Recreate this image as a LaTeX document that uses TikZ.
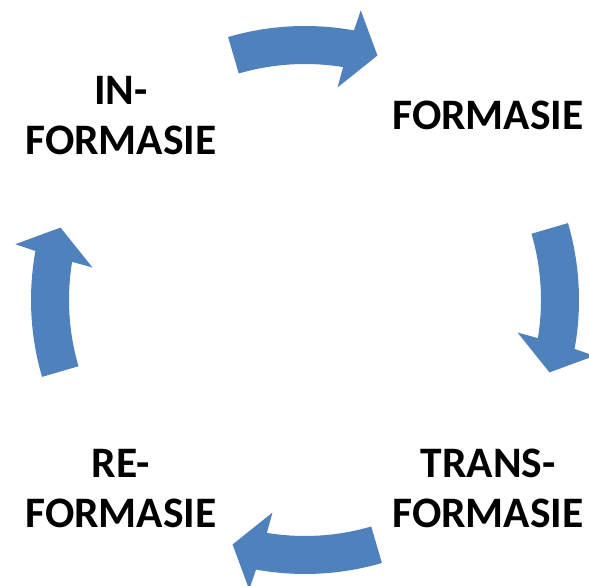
\documentclass[tikz,border=0pt]{standalone}
\usepackage{fontspec}
\setmainfont{Carlito}
\definecolor{pylblou}{RGB}{79,129,189}

\begin{document}
\begin{tikzpicture}[x=1pt,y=1pt,
  byskrif/.style={font=\fontsize{43.5}{50}\selectfont\bfseries,align=center,inner sep=0pt}]

\clip (0,0) rectangle (589,586);
%Pyle
\foreach \w in {0,90,180,270} {
\fill[shift={(305,286)},rotate=\w,fill=pylblou] (16.3:274) arc[start angle=16.3,end angle=-10.3,radius=274pt] -- (-10.9:295) -- (-16.5:255) -- (-8.7:215) -- (-9.3:236) arc[start angle=-9.3,end angle=16.3,radius=236pt] -- cycle;
}

%Byskrifte
\node[byskrif] (informasie) at (121,470.2) {IN-\\FORMASIE};
\node[byskrif] (formasie) at (488,470.2) {FORMASIE};
\node[byskrif] (transformasie) at (488,97.2) {TRANS-\\FORMASIE};
\node[byskrif] (reformasie) at (121,97.2) {RE-\\FORMASIE};
\end{tikzpicture}
\end{document}
